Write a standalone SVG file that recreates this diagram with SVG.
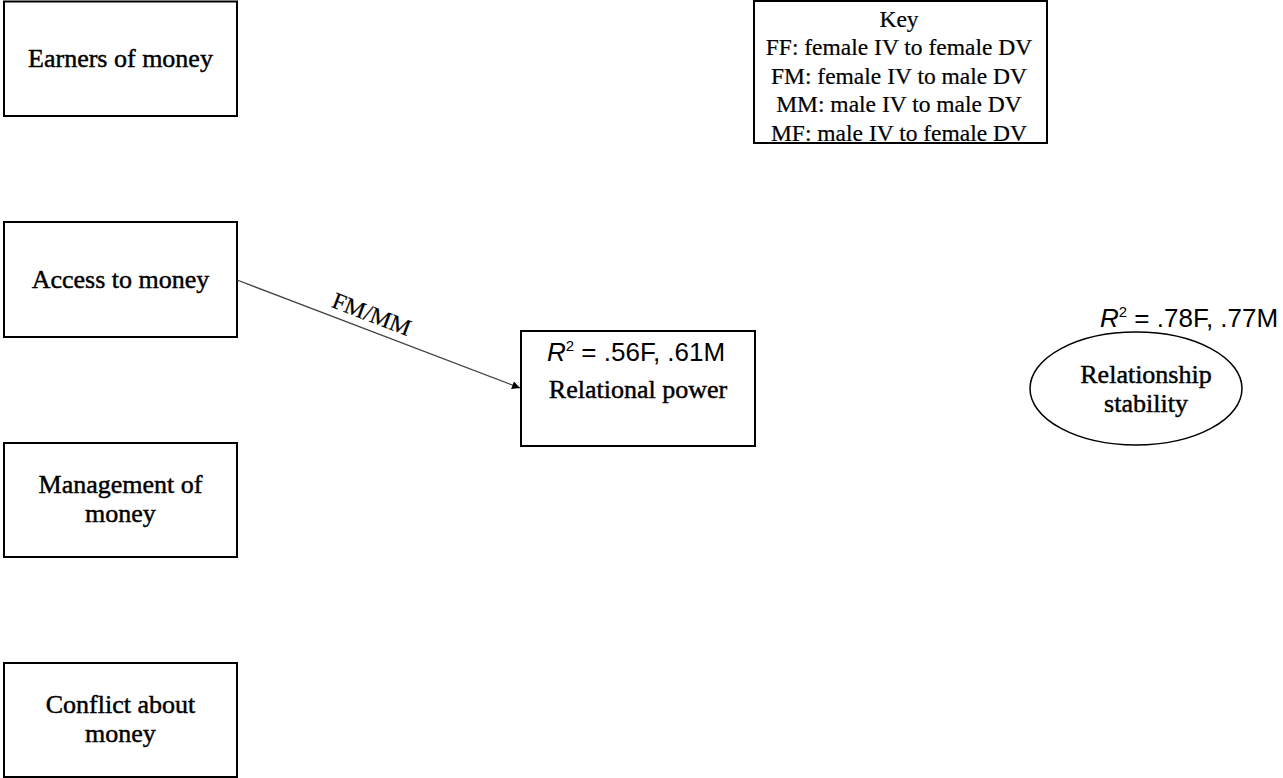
<svg xmlns="http://www.w3.org/2000/svg" width="1283" height="778" viewBox="0 0 1283 778">
<defs>
<style>
.box{fill:#fff;stroke:#000;stroke-width:2}
.lbl{font-family:"Liberation Serif","Times New Roman",serif;font-size:26px;fill:#000;stroke:#000;stroke-width:0.45;text-anchor:middle}
.key{font-family:"Liberation Serif","Times New Roman",serif;font-size:23.5px;fill:#000;stroke:#000;stroke-width:0.2;text-anchor:middle}
.r2{font-family:"Liberation Sans",Arial,sans-serif;font-size:26px;fill:#000}
.edge{stroke:#404040;stroke-width:1.2;fill:none}
</style>
<marker id="arr" viewBox="0 0 10 10" refX="10" refY="5" markerWidth="10" markerHeight="8" markerUnits="userSpaceOnUse" orient="auto">
<path d="M0,0 L10,5 L0,10 z" fill="#000"/>
</marker>
</defs>
<rect width="1283" height="778" fill="#fff"/>
<g id="earners">
<rect class="box" x="4" y="1.5" width="233" height="114.5"/>
<text class="lbl" x="120.5" y="67">Earners of money</text>
</g>
<g id="access">
<rect class="box" x="4" y="222" width="233" height="115"/>
<text class="lbl" x="120.5" y="288">Access to money</text>
</g>
<g id="management">
<rect class="box" x="4" y="443" width="233" height="114"/>
<text class="lbl" x="120.5" y="493">Management of</text>
<text class="lbl" x="120.5" y="522">money</text>
</g>
<g id="conflict">
<rect class="box" x="4" y="663" width="233" height="114"/>
<text class="lbl" x="120.5" y="713">Conflict about</text>
<text class="lbl" x="120.5" y="742">money</text>
</g>
<g id="relational-power">
<rect class="box" x="521" y="331" width="234" height="115"/>
<text class="r2" x="547" y="361"><tspan font-style="italic">R</tspan><tspan font-size="15" dy="-10">2</tspan><tspan dy="10"> = .56F, .61M</tspan></text>
<text class="lbl" x="638" y="398">Relational power</text>
</g>
<g id="relationship-stability">
<ellipse cx="1136" cy="388.5" rx="106" ry="56.5" fill="#fff" stroke="#000" stroke-width="1.5"/>
<text class="r2" x="1100" y="327"><tspan font-style="italic">R</tspan><tspan font-size="15" dy="-10">2</tspan><tspan dy="10"> = .78F, .77M</tspan></text>
<text class="lbl" x="1146" y="383">Relationship</text>
<text class="lbl" x="1146" y="412">stability</text>
</g>
<g id="key">
<rect class="box" x="754" y="1" width="293" height="142"/>
<text class="key" x="899" y="26.5">Key</text>
<text class="key" x="899" y="55">FF: female IV to female DV</text>
<text class="key" x="899" y="83.5">FM: female IV to male DV</text>
<text class="key" x="899" y="112">MM: male IV to male DV</text>
<text class="key" x="899" y="140.5">MF: male IV to female DV</text>
</g>
<g id="connectors">
<line class="edge" x1="237" y1="280" x2="520" y2="388" marker-end="url(#arr)"/>
<text class="key" transform="rotate(20.9 366 329)" x="366" y="321">FM/MM</text>
</g>
</svg>
